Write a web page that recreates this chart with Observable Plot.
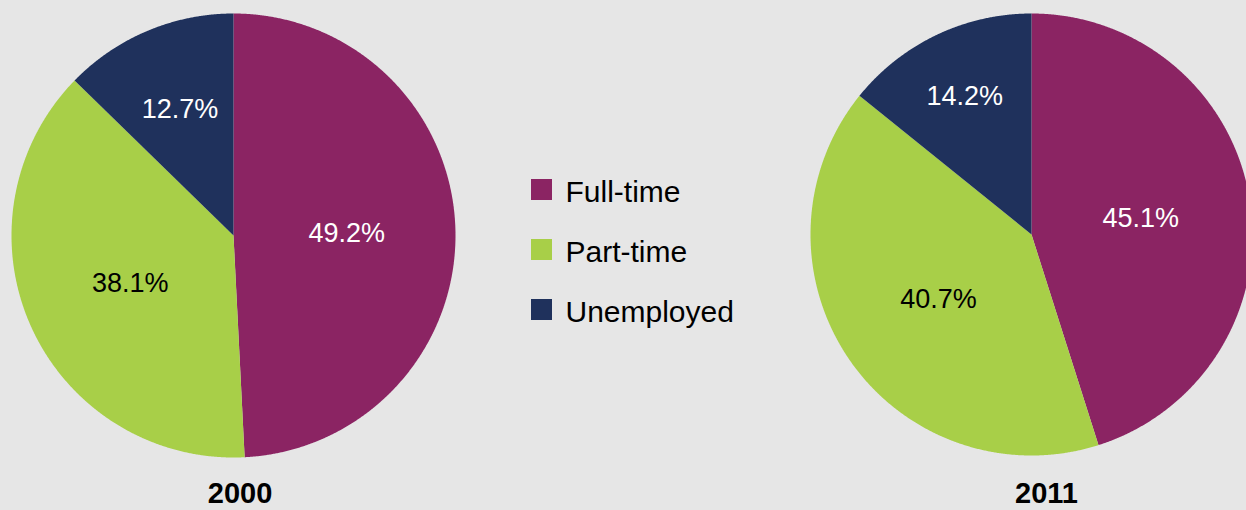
<!DOCTYPE html>
<html><head><meta charset="utf-8">
<script src="https://cdn.jsdelivr.net/npm/d3@7"></script>
<script src="https://cdn.jsdelivr.net/npm/@observablehq/plot@0.6"></script>
<style>
html,body{margin:0;padding:0;background:#e6e6e6;}
#chart svg{display:block;}
</style></head><body><div id="chart"></div>
<script>
// ---- data ----
const years = ["2000", "2011"];
const categories = ["Full-time", "Part-time", "Unemployed"];
const share2000 = [49.2, 38.1, 12.7];
const share2011 = [45.1, 40.7, 14.2];
const colors = ["#8b2463", "#a8cf48", "#1f315c"];
const labelColors = ["white", "black", "white"];

// ---- layout ----
const W = 1246, H = 510;
const pies = [
  {year: years[0], values: share2000, cx: 233, cy: 235, r: 222, labelR: [0.51, 0.51, 0.62], yearX: 239.5},
  {year: years[1], values: share2011, cx: 1031, cy: 234, r: 221, labelR: [0.50, 0.51, 0.70], yearX: 1046}
];
const legendLayout = {x: 531, size: 21, y0: 189.5, step: 60, textX: 565};

// ---- derived geometry from data ----
const slicePts = [];
const labels = [];
pies.forEach(p => {
  let cum = 0;
  p.values.forEach((v, i) => {
    const a0 = cum / 100 * 2 * Math.PI;
    const a1 = (cum + v) / 100 * 2 * Math.PI;
    cum += v;
    const key = p.year + "-" + categories[i];
    slicePts.push({key, category: categories[i], x: p.cx, y: p.cy});
    const n = Math.max(2, Math.ceil((a1 - a0) / (Math.PI / 720)));
    for (let k = 0; k <= n; k++) {
      const t = a0 + (a1 - a0) * k / n;
      slicePts.push({key, category: categories[i], x: p.cx + p.r * Math.sin(t), y: p.cy - p.r * Math.cos(t)});
    }
    const mid = (a0 + a1) / 2;
    const lr = p.labelR[i] * p.r;
    labels.push({
      text: v.toFixed(1) + "%",
      category: categories[i],
      fill: labelColors[i],
      x: p.cx + lr * Math.sin(mid),
      y: p.cy - lr * Math.cos(mid) + 1
    });
  });
});
const yearLabels = pies.map(p => ({text: p.year, x: p.yearX, y: 493.5}));
const legend = categories.map((c, i) => ({
  category: c,
  x1: legendLayout.x, x2: legendLayout.x + legendLayout.size,
  y1: legendLayout.y0 + i * legendLayout.step - legendLayout.size / 2,
  y2: legendLayout.y0 + i * legendLayout.step + legendLayout.size / 2,
  tx: legendLayout.textX,
  ty: legendLayout.y0 + i * legendLayout.step + 2
}));

const chart = Plot.plot({
  width: W, height: H,
  margin: 0,
  style: {background: "#e6e6e6", fontFamily: "'Liberation Sans', Arial, Helvetica, sans-serif"},
  x: {domain: [0, W], range: [0, W], axis: null},
  y: {domain: [0, H], range: [0, H], axis: null},
  color: {domain: categories, range: colors},
  marks: [
    Plot.line(slicePts, {x: "x", y: "y", z: "key", fill: "category", stroke: null, curve: "linear-closed"}),
    Plot.text(labels.filter(d => d.fill === "white"), {x: "x", y: "y", text: "text", fill: "white", fontSize: 27}),
    Plot.text(labels.filter(d => d.fill === "black"), {x: "x", y: "y", text: "text", fill: "black", fontSize: 27}),
    Plot.rect(legend, {x1: "x1", x2: "x2", y1: "y1", y2: "y2", fill: "category"}),
    Plot.text(legend, {x: "tx", y: "ty", text: "category", textAnchor: "start", fill: "black", fontSize: 30}),
    Plot.text(yearLabels, {x: "x", y: "y", text: "text", fill: "black", fontSize: 29, fontWeight: "bold"})
  ]
});
document.getElementById("chart").appendChild(chart);
</script></body></html>
